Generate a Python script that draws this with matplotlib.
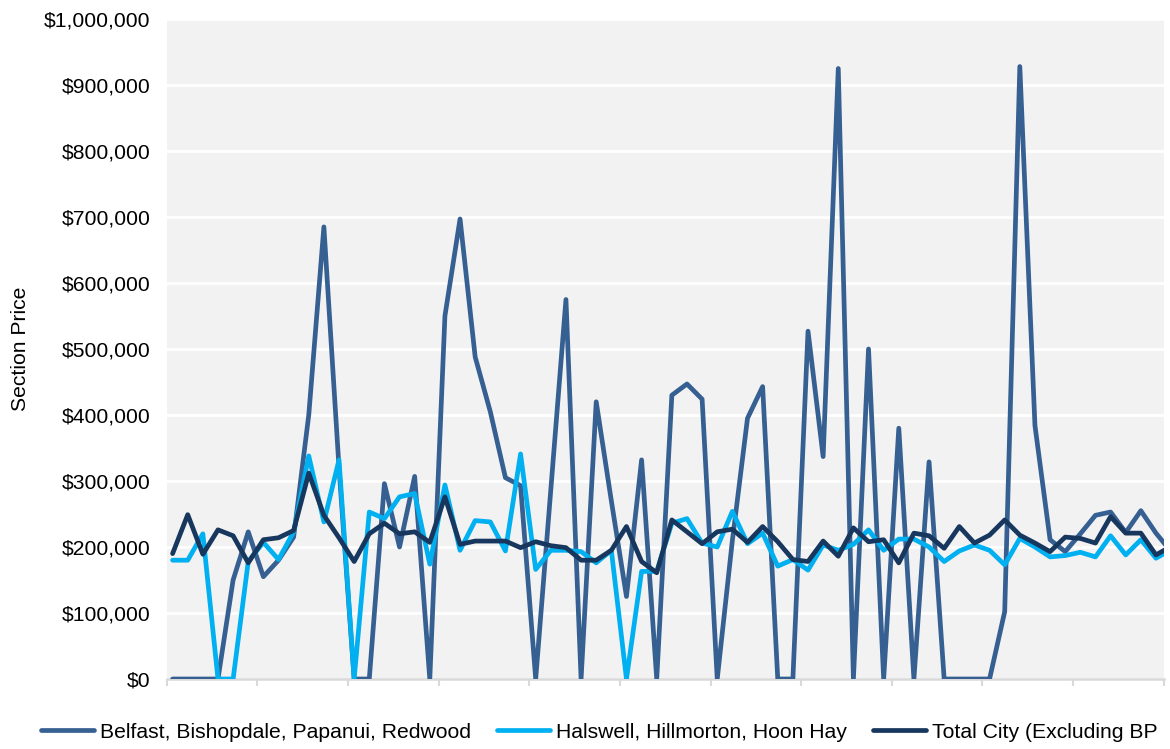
import matplotlib
matplotlib.use("Agg")
import matplotlib.pyplot as plt
from matplotlib.ticker import FuncFormatter, MultipleLocator

# Monthly section prices (NZD)
belfast = [0, 0, 0, 0, 150000, 223000, 155000, 180000, 215000, 400000,
           685000, 320000, 0, 0, 296000, 200000, 307000, 0, 550000, 697000,
           488000, 405000, 305000, 293000, 0, 287000, 575000, 0, 420000, 270000,
           125000, 332000, 0, 430000, 447000, 424000, 0, 210000, 395000, 443000,
           0, 0, 527000, 337000, 925000, 0, 500000, 0, 380000, 0,
           329000, 0, 0, 0, 0, 102000, 928000, 384000, 211000, 193000,
           220000, 248000, 253000, 222000, 255000, 221000, 193000]

halswell = [180000, 180000, 220000, 0, 0, 178000, 207000, 181000, 223000, 338000,
            238000, 332000, 0, 253000, 243000, 276000, 281000, 174000, 294000, 195000,
            240000, 238000, 194000, 341000, 166000, 195000, 195000, 193000, 176000, 195000,
            0, 163000, 163000, 236000, 243000, 206000, 200000, 254000, 205000, 221000,
            171000, 181000, 165000, 203000, 195000, 204000, 226000, 195000, 212000, 212000,
            200000, 178000, 194000, 203000, 195000, 173000, 213000, 200000, 185000, 187000,
            192000, 185000, 217000, 188000, 211000, 183000, 196000]

total_city = [190000, 249000, 189000, 226000, 217000, 176000, 211000, 214000, 225000, 312000,
              248000, 214000, 178000, 220000, 236000, 220000, 223000, 207000, 276000, 204000,
              209000, 209000, 209000, 199000, 208000, 202000, 199000, 180000, 180000, 195000,
              231000, 178000, 161000, 241000, 223000, 205000, 223000, 227000, 207000, 231000,
              208000, 181000, 178000, 209000, 186000, 229000, 208000, 211000, 176000, 221000,
              217000, 198000, 231000, 206000, 218000, 241000, 218000, 206000, 193000, 215000,
              213000, 206000, 246000, 221000, 221000, 188000, 201000]

series_labels = ["Belfast, Bishopdale, Papanui, Redwood",
                 "Halswell, Hillmorton, Hoon Hay",
                 "Total City (Excluding BP"]
series_colors = ["#366092", "#00B0F0", "#17375E"]

plt.rcParams["font.family"] = ["Liberation Sans", "DejaVu Sans"]
FS = 15.2

fig = plt.figure(figsize=(11.7, 7.49), dpi=100)
ax = fig.add_axes([166.7 / 1170, 1 - 679 / 749, (1164 - 166.7) / 1170, (679 - 19) / 749])
ax.set_facecolor("#F2F2F2")

months = list(range(len(belfast)))
for values, label, color in zip([belfast, halswell, total_city], series_labels, series_colors):
    ax.plot(months, values, color=color, lw=3.4, label=label,
            solid_joinstyle="round", solid_capstyle="round", zorder=3)

ax.set_ylim(0, 1000000)
ax.set_xlim(-0.39, 65.53)
ax.yaxis.set_major_locator(MultipleLocator(100000))
ax.yaxis.set_major_formatter(FuncFormatter(lambda v, p: "${:,.0f}".format(v)))
ax.grid(axis="y", color="white", lw=2, zorder=1)
ax.set_axisbelow(True)

ax.set_xticks([-0.39 + 5.991 * k for k in range(12)])
ax.set_xticklabels([])
ax.tick_params(axis="x", direction="out", length=5, width=1.5, color="#D9D9D9")
ax.tick_params(axis="y", length=0, pad=11.5, labelsize=FS, labelcolor="#000000")

for side in ["left", "right", "top"]:
    ax.spines[side].set_visible(False)
ax.spines["bottom"].set_color("#D9D9D9")
ax.spines["bottom"].set_linewidth(1.8)

fig.text(20 / 1170, 1 - 349 / 749, "Section Price", rotation=90, ha="center", va="center",
         fontsize=FS)

fig.legend(loc="center left", bbox_to_anchor=(41 / 1170, 1 - 732 / 749), ncol=3,
           frameon=False, fontsize=FS, handlelength=2.51, handletextpad=0.28,
           columnspacing=1.23, borderpad=0, borderaxespad=0)

fig.savefig("out.png", dpi=100)
